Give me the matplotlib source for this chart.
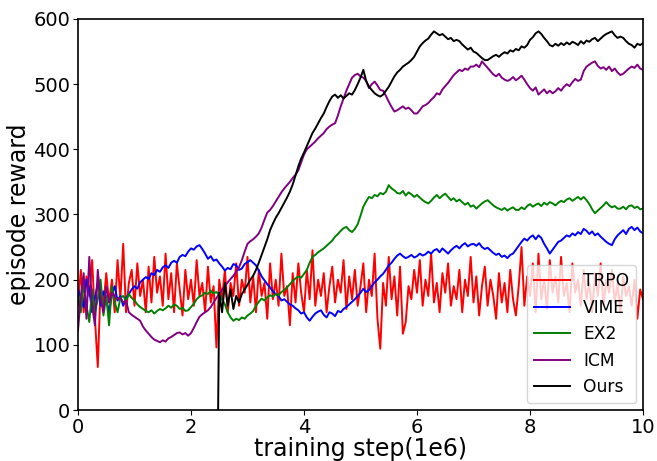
import numpy as np
import matplotlib
matplotlib.use("Agg")
import matplotlib.pyplot as plt

# values sampled every 0.05 (1e6 steps) from 0 to 10
trpo = [160, 215, 150, 205, 175, 230, 140, 66, 190, 160, 210, 165, 200, 150, 230, 170, 255, 150, 195, 215,
        160, 225, 175, 200, 150, 220, 165, 235, 180, 205, 160, 240, 170, 210, 150, 225, 185, 145, 215, 170,
        200, 160, 230, 175, 195, 150, 220, 165, 190, 96, 200, 170, 215, 150, 195, 175, 225, 160, 200, 180,
        235, 165, 205, 150, 215, 175, 195, 140, 225, 170, 200, 160, 240, 175, 190, 130, 210, 165, 225, 180,
        150, 215, 170, 245, 160, 200, 175, 210, 150, 190, 220, 165, 200, 180, 230, 155, 205, 170, 215, 160,
        190, 225, 150, 200, 175, 240, 140, 94, 195, 160, 235, 170, 205, 145, 220, 117, 135, 190, 170, 215,
        180, 230, 160, 200, 175, 240, 165, 195, 150, 210, 180, 225, 160, 190, 170, 215, 150, 200, 175, 235,
        165, 205, 145, 190, 220, 160, 200, 175, 140, 210, 165, 195, 150, 215, 170, 145, 190, 250, 160, 205,
        175, 225, 150, 240, 170, 200, 155, 230, 180, 205, 165, 235, 175, 195, 150, 225, 180, 200, 160, 215,
        170, 195, 150, 210, 175, 225, 160, 200, 180, 215, 165, 195, 150, 205, 175, 190, 160, 200, 140, 185, 170]

vime = [185, 172, 158, 200, 185, 150, 172, 195, 160, 182, 170, 150, 178, 190, 168, 175, 160, 172, 178, 185,
        190, 186, 196, 200, 204, 201, 210, 207, 215, 212, 219, 222, 218, 226, 229, 226, 235, 238, 236, 243,
        248, 246, 251, 253, 247, 240, 232, 236, 229, 231, 225, 220, 214, 218, 216, 224, 222, 215, 217, 224,
        227, 230, 226, 222, 214, 205, 199, 193, 188, 182, 178, 175, 168, 170, 166, 162, 160, 156, 153, 148,
        150, 142, 137, 143, 148, 151, 153, 146, 142, 150, 148, 144, 152, 150, 155, 158, 162, 166, 170, 175,
        180, 186, 181, 184, 190, 196, 200, 205, 209, 215, 222, 226, 232, 237, 240, 236, 233, 235, 238, 234,
        236, 240, 237, 239, 243, 240, 245, 247, 242, 248, 244, 240, 245, 249, 252, 248, 253, 256, 251, 254,
        255, 252, 256, 250, 247, 249, 245, 241, 238, 240, 235, 237, 233, 238, 240, 246, 252, 258, 263, 260,
        265, 268, 262, 268, 264, 255, 248, 240, 246, 252, 258, 260, 264, 268, 266, 271, 268, 273, 270, 278,
        275, 270, 274, 268, 271, 266, 262, 258, 255, 253, 262, 268, 272, 276, 270, 278, 281, 276, 280, 274, 271]

ex2 = [180, 150, 195, 160, 135, 185, 150, 170, 200, 145, 175, 130, 190, 165, 150, 172, 175, 168, 178, 172,
       168, 162, 158, 155, 152, 150, 153, 148, 152, 155, 153, 156, 160, 157, 162, 160, 155, 157, 152, 153,
       158, 163, 170, 174, 176, 180, 178, 183, 179, 181, 177, 170, 162, 150, 142, 137, 140, 138, 142, 140,
       145, 148, 152, 160, 166, 171, 168, 173, 176, 174, 178, 176, 181, 184, 188, 193, 198, 202, 205, 203,
       209, 215, 226, 235, 238, 242, 245, 248, 252, 256, 260, 266, 270, 275, 279, 281, 276, 273, 278, 285,
       298, 312, 320, 327, 325, 330, 328, 333, 331, 335, 345, 340, 337, 333, 332, 336, 329, 334, 331, 327,
       330, 326, 322, 319, 317, 321, 326, 330, 325, 329, 332, 327, 322, 325, 320, 323, 319, 315, 318, 312,
       314, 309, 313, 317, 320, 322, 318, 314, 311, 309, 307, 310, 306, 309, 311, 307, 307, 311, 308, 313,
       316, 312, 315, 317, 313, 318, 315, 319, 317, 314, 318, 321, 319, 323, 325, 321, 324, 327, 323, 327,
       322, 316, 308, 302, 306, 310, 314, 319, 314, 311, 313, 309, 309, 312, 308, 313, 314, 310, 312, 308, 309]

icm = [122, 175, 210, 140, 235, 160, 130, 215, 170, 150, 190, 165, 180, 175, 170, 172, 165, 168, 150, 146,
       143, 140, 137, 128, 122, 117, 112, 108, 106, 104, 107, 105, 110, 112, 115, 118, 119, 116, 118, 114,
       118, 126, 135, 143, 147, 150, 153, 158, 165, 172, 178, 185, 190, 196, 201, 206, 212, 219, 230, 243,
       255, 259, 262, 266, 271, 280, 292, 303, 307, 313, 320, 327, 334, 340, 345, 350, 356, 361, 368, 380,
       392, 400, 404, 408, 412, 417, 421, 425, 431, 435, 438, 440, 452, 466, 478, 490, 500, 510, 514, 516,
       512, 510, 505, 494, 500, 504, 498, 491, 490, 482, 473, 465, 458, 460, 463, 466, 462, 464, 460, 455,
       455, 460, 466, 468, 471, 476, 480, 486, 484, 492, 497, 502, 508, 514, 518, 522, 520, 524, 522, 527,
       527, 530, 526, 535, 530, 525, 520, 515, 512, 516, 510, 507, 505, 507, 511, 506, 509, 513, 507, 500,
       494, 490, 495, 484, 488, 492, 486, 490, 486, 489, 494, 490, 496, 500, 497, 503, 508, 505, 507, 520,
       527, 530, 533, 535, 528, 524, 526, 522, 527, 520, 524, 518, 514, 516, 520, 524, 527, 525, 530, 524, 522]

# Ours starts at 2.48 (from 0), then sampled every 0.05 from 2.5 to 10
ours_start = 2.48
ours = [0,
        180, 150, 195, 160, 185, 155, 175, 165, 178, 185,
        192, 200, 206, 215, 226, 238, 250, 262, 276, 286, 295, 302, 310, 318, 326, 335, 346, 360, 374, 386,
        395, 405, 415, 425, 432, 440, 448, 455, 465, 474, 481, 484, 479, 483, 478, 482, 486, 484, 491, 500,
        510, 522, 505, 496, 491, 486, 483, 481, 484, 490, 496, 504, 512, 518, 522, 527, 530, 533, 537, 542,
        550, 558, 563, 567, 570, 576, 581, 578, 575, 577, 573, 569, 571, 566, 568, 566, 561, 557, 553, 556,
        550, 548, 544, 540, 537, 537, 540, 543, 545, 542, 546, 549, 547, 552, 550, 554, 552, 558, 556, 560,
        568, 572, 578, 581, 577, 571, 566, 560, 558, 562, 559, 563, 560, 564, 561, 565, 563, 560, 566, 562,
        567, 565, 569, 571, 566, 570, 574, 577, 579, 581, 575, 571, 573, 571, 566, 562, 560, 556, 562, 560, 563]

labels = ["TRPO", "VIME", "EX2", "ICM", "Ours"]
colors = ["red", "blue", "green", "purple", "black"]

x = np.linspace(0, 10, len(trpo))
ours_x = np.concatenate([[ours_start], np.linspace(2.5, 10, len(ours) - 1)])

fig = plt.figure(figsize=(6.57, 4.61), dpi=100)
ax = fig.add_axes([78 / 657, 1 - 410 / 461, (643 - 78) / 657, (410 - 19) / 461])

series = [(x, trpo), (x, vime), (x, ex2), (x, icm), (ours_x, ours)]
for (xs, ys), lab, c in zip(series, labels, colors):
    ax.plot(xs, ys, color=c, label=lab, linewidth=1.4)

ax.set_xlim(0, 10)
ax.set_ylim(0, 600)
ax.set_xticks([0, 2, 4, 6, 8, 10])
ax.set_yticks([0, 100, 200, 300, 400, 500, 600])
ax.tick_params(labelsize=14, pad=2)
ax.set_xlabel("training step(1e6)", fontsize=17, labelpad=0)
ax.set_ylabel("episode reward", fontsize=17, labelpad=2)
for s in ax.spines.values():
    s.set_linewidth(1.2)
ax.legend(loc="lower right", fontsize=12.3, handlelength=2.1, borderaxespad=0.4)

fig.savefig("out.png", dpi=100)
